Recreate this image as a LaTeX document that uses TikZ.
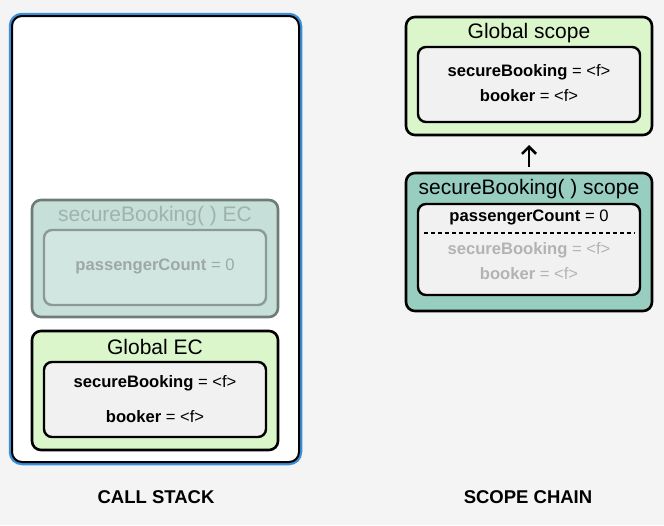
\documentclass[tikz,border=0pt]{standalone}
\usepackage{fontspec}
\setmainfont{Liberation Sans}
\usetikzlibrary{arrows.meta}
\definecolor{bgc}{HTML}{F4F4F4}
\definecolor{glow}{HTML}{3A8FD9}
\definecolor{fadefill}{HTML}{C6DFD8}
\definecolor{fadeinner}{HTML}{D2E6E1}
\definecolor{fadeline}{HTML}{6F7B77}
\definecolor{fadeinline}{HTML}{8C9A96}
\definecolor{fadetext}{HTML}{9DB3AD}
\definecolor{fadeval}{HTML}{9EA8A5}
\definecolor{greenfill}{HTML}{DBF6CB}
\definecolor{tealfill}{HTML}{98CEBF}
\definecolor{innerfill}{HTML}{F1F1F1}
\definecolor{greytext}{HTML}{B3B3B3}
\tikzset{
  x=1pt, y=-1pt,
  outerbox/.style={draw=black, line width=2.6pt, rounded corners=9pt},
  innerbox/.style={draw=black, line width=2.4pt, rounded corners=8pt, fill=innerfill},
  titletxt/.style={font=\fontsize{21}{24}\selectfont, inner sep=0pt},
  valtxt/.style={font=\fontsize{16.6}{19}\selectfont, inner sep=0pt},
  labeltxt/.style={font=\fontsize{18.5}{21}\selectfont\bfseries, inner sep=0pt},
}
\begin{document}
\begin{tikzpicture}
\fill[bgc] (0,0) rectangle (664,525);
% call stack
\draw[glow, line width=4.5pt, rounded corners=11pt] (11,15) rectangle (300,463);
\draw[black, line width=2pt, fill=white, rounded corners=10pt] (12,16) rectangle (299,462);
% faded EC
\draw[draw=fadeline, line width=2.6pt, rounded corners=9pt, fill=fadefill] (32,200) rectangle (278,317);
\node[titletxt, text=fadetext] (ectitle) at (155,216) {secureBooking( ) EC};
\draw[draw=fadeinline, line width=2.4pt, rounded corners=8pt, fill=fadeinner] (44,230) rectangle (266,305);
\node[valtxt, text=fadeval] (pcfade) at (155,266) {\textbf{passengerCount} = 0};
% Global EC
\draw[outerbox, fill=greenfill] (32,331) rectangle (278,450);
\node[titletxt] (getitle) at (155,347) {Global EC};
\draw[innerbox] (44,362) rectangle (266,437);
\node[valtxt] (gesb) at (155,383) {\textbf{secureBooking} = <f>};
\node[valtxt] (gebk) at (155,417) {\textbf{booker} = <f>};
% Global scope
\draw[outerbox, fill=greenfill] (406,17) rectangle (652,135);
\node[titletxt] (gstitle) at (529,33) {Global scope};
\draw[innerbox] (418,47) rectangle (640,122);
\node[valtxt] (gssb) at (529,72) {\textbf{secureBooking} = <f>};
\node[valtxt] (gsbk) at (529,96) {\textbf{booker} = <f>};
% secureBooking scope
\draw[outerbox, fill=tealfill] (406,173) rectangle (652,311);
\node[titletxt] (sbtitle) at (529,189) {secureBooking( ) scope};
\draw[innerbox] (418,204) rectangle (640,295);
\node[valtxt] (sbpc) at (529,217) {\textbf{passengerCount} = 0};
\draw[black, line width=1.3pt, dash pattern=on 4pt off 3pt] (424,233) -- (635,233);
\node[valtxt, text=greytext] (sbsb) at (529,250) {\textbf{secureBooking} = <f>};
\node[valtxt, text=greytext] (sbbk) at (529,274) {\textbf{booker} = <f>};
% arrow
\coordinate (arrS) at (529,167);
\coordinate (arrE) at (529,145);
\draw[line width=2.6pt, -{Straight Barb[length=7pt, width=14pt, line width=2.6pt]}] (arrS) -- (arrE);
% labels
\node[labeltxt] (lcs) at (156,497) {CALL STACK};
\node[labeltxt] (lsc) at (528,497) {SCOPE CHAIN};
\end{tikzpicture}
\end{document}
